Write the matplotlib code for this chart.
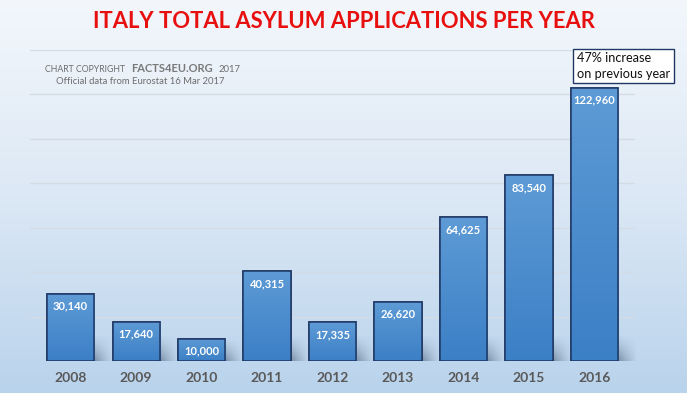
import numpy as np
import matplotlib.pyplot as plt
from matplotlib.patches import Rectangle
from matplotlib.colors import LinearSegmentedColormap

years = ["2008", "2009", "2010", "2011", "2012", "2013", "2014", "2015", "2016"]
applications = [30140, 17640, 10000, 40315, 17335, 26620, 64625, 83540, 122960]
value_labels = ["30,140", "17,640", "10,000", "40,315", "17,335", "26,620", "64,625", "83,540", "122,960"]

plt.rcParams['font.family'] = ['Lato', 'DejaVu Sans']

fig = plt.figure(figsize=(6.87, 3.93), dpi=100)

# background gradient
bg = fig.add_axes([0, 0, 1, 1], zorder=0)
grad = np.linspace(0, 1, 256).reshape(-1, 1)
bg_cmap = LinearSegmentedColormap.from_list("bg", ["#f3f7fc", "#dce8f5", "#b9d3ec"])
bg.imshow(grad, aspect="auto", cmap=bg_cmap, extent=[0, 1, 0, 1], origin="upper")
bg.set_axis_off()

ax = fig.add_axes([30 / 687, 1 - 361 / 393, 605 / 687, 311 / 393], zorder=1)
ax.patch.set_alpha(0)
x = np.arange(len(years))

for y in range(20000, 140001, 20000):
    ax.axhline(y, color="#d3dbe4", lw=1, zorder=1)

# soft shadow texture: darkest at the bar foot, fading up and to the right
v = np.linspace(0, 1, 40)
hfac = 1 - np.linspace(0, 1, 40)
shadow = np.zeros((40, 40, 4))
shadow[..., :3] = np.array([0.15, 0.22, 0.32])
shadow[..., 3] = 0.45 * np.outer(v, hfac) ** 1.3

bar_cmap = LinearSegmentedColormap.from_list("bar", ["#5e9bd6", "#3b7fc5"])
bars = ax.bar(x, applications, width=0.72, color="#4b8dd0", edgecolor="#1f3864", lw=1.1, zorder=3)
for b in bars:
    x0, y0 = b.get_x(), b.get_y()
    w, h = b.get_width(), b.get_height()
    ax.imshow(shadow, aspect="auto", extent=[x0 + w, x0 + w + 0.3, 0, min(h, 12000)],
              origin="upper", zorder=2, interpolation="bilinear")
    im = ax.imshow(grad, aspect="auto", cmap=bar_cmap, extent=[x0, x0 + w, y0, y0 + h],
                   origin="upper", zorder=3.5)
    im.set_clip_path(b)
    ax.add_patch(Rectangle((x0, y0), w, h, fill=False, edgecolor="#1f3864", lw=1.1, zorder=4))

for xi, v_, lab in zip(x, applications, value_labels):
    ax.text(xi, v_ - 5400, lab, ha="center", va="center", color="white", fontsize=8,
            fontweight="bold", zorder=5)

ax.set_xticks(x)
ax.set_xticklabels(years, fontsize=10, fontweight="bold", color="#595959")
ax.tick_params(axis="x", length=0, pad=8)
ax.set_yticks([])
for s in ax.spines.values():
    s.set_visible(False)
ax.set_xlim(-0.62, len(years) - 0.38)
ax.set_ylim(0, 140000)

fig.text(0.5, 1 - 22 / 393, "ITALY TOTAL ASYLUM APPLICATIONS PER YEAR", ha="center", va="center",
         color="#e8100f", fontsize=15.8, fontweight="bold")

fig.text(45 / 687, 1 - 69 / 393, "CHART COPYRIGHT", ha="left", va="center", color="#6d6d6d",
         fontsize=6.3)
fig.text(131 / 687, 1 - 69 / 393, "FACTS4EU.ORG", ha="left", va="center", color="#7a7a7a",
         fontsize=8, fontweight="bold")
fig.text(219 / 687, 1 - 69 / 393, "2017", ha="left", va="center", color="#6d6d6d",
         fontsize=6.8)
fig.text(56 / 687, 1 - 82 / 393, "Official data from Eurostat 16 Mar 2017", ha="left", va="center",
         color="#6d6d6d", fontsize=6.8)

fig.text(577 / 687, 1 - 66 / 393, "47% increase\non previous year", ha="left", va="center",
         color="#111111", fontsize=9.2, linespacing=1.3,
         bbox=dict(boxstyle="square,pad=0.3", facecolor="white", edgecolor="#1f3864", lw=1))

fig.savefig("out.png", dpi=100)
